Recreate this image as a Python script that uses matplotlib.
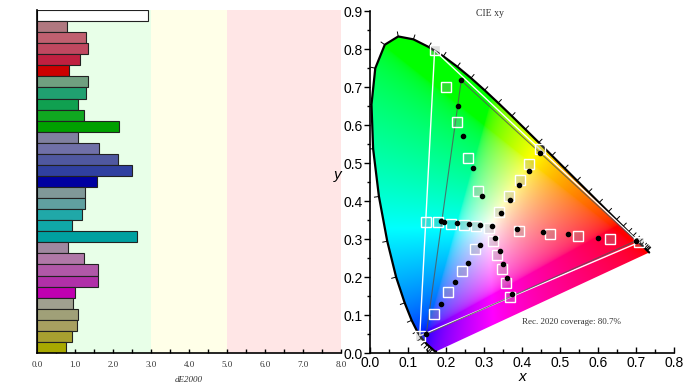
import numpy as np
import matplotlib
matplotlib.use("Agg")
import matplotlib.pyplot as plt
from matplotlib.patches import Polygon
from matplotlib.ticker import MultipleLocator

# ---- left panel: dE2000 per patch ----
de_values = [2.92,
             0.78, 1.28, 1.34, 1.14, 0.83,
             1.33, 1.30, 1.07, 1.23, 2.15,
             1.09, 1.64, 2.12, 2.51, 1.57,
             1.26, 1.25, 1.18, 0.93, 2.64,
             0.81, 1.23, 1.61, 1.60, 1.00,
             0.96, 1.08, 1.06, 0.91, 0.76]
bar_colors = ['#ffffff',
              '#b07880', '#c06070', '#c04860', '#c02040', '#cc0000',
              '#70a080', '#20a070', '#10a050', '#10a820', '#00a000',
              '#8080a0', '#7070a8', '#5058a0', '#3040a0', '#0000a0',
              '#809898', '#60a0a0', '#20a8a8', '#10a8a8', '#00a0a0',
              '#a088a0', '#b078a8', '#b058a8', '#b030a8', '#c000b0',
              '#a0a090', '#a0a078', '#a8a060', '#a8a030', '#a8a800']
de_ticks = [0, 1, 2, 3, 4, 5, 6, 7, 8]

# ---- right panel: CIE 1931 spectral locus (5 nm steps) ----
locus_nm = [380, 385, 390, 395, 400, 405, 410, 415, 420, 425, 430, 435, 440, 445,
            450, 455, 460, 465, 470, 475, 480, 485, 490, 495, 500, 505, 510, 515,
            520, 525, 530, 535, 540, 545, 550, 555, 560, 565, 570, 575, 580, 585,
            590, 595, 600, 605, 610, 615, 620, 625, 630, 635, 640, 645, 650, 655,
            660, 665, 670, 680, 690, 700]
locus_x = [0.1741, 0.1740, 0.1738, 0.1736, 0.1733, 0.1730, 0.1726, 0.1721, 0.1714, 0.1703,
           0.1689, 0.1669, 0.1644, 0.1611, 0.1566, 0.1510, 0.1440, 0.1355, 0.1241, 0.1096,
           0.0913, 0.0687, 0.0454, 0.0235, 0.0082, 0.0039, 0.0139, 0.0389, 0.0743, 0.1142,
           0.1547, 0.1929, 0.2296, 0.2658, 0.3016, 0.3373, 0.3731, 0.4087, 0.4441, 0.4788,
           0.5125, 0.5448, 0.5752, 0.6029, 0.6270, 0.6482, 0.6658, 0.6801, 0.6915, 0.7006,
           0.7079, 0.7140, 0.7190, 0.7230, 0.7260, 0.7283, 0.7300, 0.7311, 0.7320, 0.7334,
           0.7344, 0.7347]
locus_y = [0.0050, 0.0050, 0.0049, 0.0049, 0.0048, 0.0048, 0.0048, 0.0048, 0.0051, 0.0058,
           0.0069, 0.0086, 0.0109, 0.0138, 0.0177, 0.0227, 0.0297, 0.0399, 0.0578, 0.0868,
           0.1327, 0.2007, 0.2950, 0.4127, 0.5384, 0.6548, 0.7502, 0.8120, 0.8338, 0.8262,
           0.8059, 0.7816, 0.7543, 0.7243, 0.6923, 0.6589, 0.6245, 0.5896, 0.5547, 0.5202,
           0.4866, 0.4544, 0.4242, 0.3965, 0.3725, 0.3514, 0.3340, 0.3197, 0.3083, 0.2993,
           0.2920, 0.2859, 0.2809, 0.2770, 0.2740, 0.2717, 0.2700, 0.2689, 0.2680, 0.2666,
           0.2656, 0.2653]

rec2020_x = [0.708, 0.170, 0.131]
rec2020_y = [0.292, 0.797, 0.046]
display_x = [0.700, 0.240, 0.148]
display_y = [0.296, 0.718, 0.050]

# target squares (white, R, G, B, C, M, Y sweeps)
target_x = [0.3127,
            0.392, 0.474, 0.547, 0.632, 0.708,
            0.284, 0.258, 0.229, 0.200, 0.170,
            0.276, 0.242, 0.205, 0.169, 0.131,
            0.278, 0.248, 0.214, 0.180, 0.148,
            0.324, 0.335, 0.347, 0.358, 0.369,
            0.340, 0.367, 0.395, 0.419, 0.447]
target_y = [0.331,
            0.323, 0.315, 0.309, 0.300, 0.292,
            0.428, 0.515, 0.609, 0.700, 0.797,
            0.274, 0.217, 0.160, 0.103, 0.046,
            0.334, 0.337, 0.339, 0.345, 0.346,
            0.296, 0.258, 0.221, 0.185, 0.148,
            0.373, 0.413, 0.456, 0.497, 0.537]
# measured dots
meas_x = [0.320,
          0.388, 0.456, 0.520, 0.601, 0.700,
          0.295, 0.271, 0.246, 0.231, 0.240,
          0.289, 0.257, 0.224, 0.186, 0.148,
          0.290, 0.261, 0.228, 0.194, 0.188,
          0.330, 0.341, 0.351, 0.361, 0.374,
          0.345, 0.368, 0.392, 0.418, 0.448]
meas_y = [0.334,
          0.327, 0.319, 0.313, 0.303, 0.296,
          0.415, 0.488, 0.571, 0.651, 0.718,
          0.286, 0.237, 0.187, 0.130, 0.050,
          0.337, 0.339, 0.343, 0.346, 0.348,
          0.304, 0.269, 0.234, 0.199, 0.157,
          0.369, 0.403, 0.442, 0.481, 0.527]
coverage_text = "Rec. 2020 coverage: 80.7%"

fig = plt.figure(figsize=(6.93, 3.9), dpi=100)

# ================= left: dE bars =================
ax1 = fig.add_axes([37 / 693, 1 - 353 / 390, 304 / 693, 343 / 390])
ax1.axvspan(0, 3, color='#e8ffe8', lw=0, zorder=0)
ax1.axvspan(3, 5, color='#ffffe8', lw=0, zorder=0)
ax1.axvspan(5, 8, color='#ffe6e6', lw=0, zorder=0)
pos = np.arange(len(de_values))[::-1]
ax1.barh(pos, de_values, height=1.0, color=bar_colors, edgecolor='#222222',
         linewidth=0.8, zorder=2)
ax1.set_xlim(0, 8)
ax1.set_ylim(-0.5, len(de_values) - 0.5)
ax1.set_xticks(de_ticks)
ax1.set_xticklabels([f"{v:.1f}" for v in de_ticks], family='Liberation Serif',
                    fontsize=6.5, color='#333333')
ax1.xaxis.set_minor_locator(MultipleLocator(0.5))
ax1.tick_params(axis='x', which='both', direction='in', length=3, width=1, pad=6)
ax1.set_yticks([])
ax1.spines['top'].set_visible(False)
ax1.spines['right'].set_visible(False)
ax1.spines['left'].set_linewidth(1.2)
ax1.spines['bottom'].set_linewidth(1.2)
ax1.set_xlabel('dE2000', family='Liberation Serif', style='italic', fontsize=6.5,
               color='#333333', labelpad=5)

# ================= right: CIE xy =================
ax2 = fig.add_axes([370 / 693, 1 - 353.3 / 390, 304 / 693, 342 / 390])
lx = np.array(locus_x)
ly = np.array(locus_y)

# chromaticity colour fill
gx, gy = np.meshgrid(np.linspace(0, 0.8, 480), np.linspace(0.001, 0.9, 540))
X = gx / gy
Y = np.ones_like(gx)
Z = (1 - gx - gy) / gy
R = 3.2406 * X - 1.5372 * Y - 0.4986 * Z
G = -0.9689 * X + 1.8758 * Y + 0.0415 * Z
B = 0.0557 * X - 0.2040 * Y + 1.0570 * Z
rgb = np.clip(np.dstack([R, G, B]), 0, None)
rgb = rgb / np.maximum(rgb.max(axis=2, keepdims=True), 1e-9)
rgb = np.clip(rgb, 0, 1) ** (1 / 2.2)
img = ax2.imshow(rgb, origin='lower', extent=[0, 0.8, 0.001, 0.9],
                 interpolation='bilinear', zorder=1)
clip = Polygon(np.column_stack([lx, ly]), closed=True, transform=ax2.transData,
               facecolor='none', edgecolor='none')
ax2.add_patch(clip)
img.set_clip_path(clip)

ax2.plot(lx, ly, color='black', lw=1.6, zorder=3, solid_capstyle='round')

# wavelength ticks
wx, wy = 0.33, 0.33
for i in range(1, len(lx) - 1):
    if locus_nm[i] < 440 or locus_nm[i] > 660:
        continue
    tx = lx[i + 1] - lx[i - 1]
    ty = ly[i + 1] - ly[i - 1]
    n = np.array([ty, -tx])
    n = n / np.hypot(*n)
    if np.dot(n, [lx[i] - wx, ly[i] - wy]) < 0:
        n = -n
    ax2.plot([lx[i], lx[i] + 0.012 * n[0]], [ly[i], ly[i] + 0.012 * n[1]],
             color='black', lw=0.7, zorder=3)

ax2.plot(rec2020_x + rec2020_x[:1], rec2020_y + rec2020_y[:1], color='white',
         lw=1.0, zorder=4)
ax2.plot(display_x + display_x[:1], display_y + display_y[:1], color='#555555',
         lw=0.8, alpha=0.8, zorder=4)
ax2.plot(target_x, target_y, ls='none', marker='s', ms=7.5, mfc=(0.6, 0.6, 0.6, 0.3),
         mec='white', mew=1.0, zorder=5)
ax2.plot(meas_x, meas_y, ls='none', marker='o', ms=3, color='black', zorder=6)

ax2.text(0.316, 0.893, 'CIE xy', family='Liberation Serif', fontsize=7,
         ha='center', va='center', color='#333333')
ax2.text(0.531, 0.082, coverage_text, family='Liberation Serif', fontsize=6.5,
         ha='center', va='center', color='#333333')

ax2.set_xlim(0, 0.8)
ax2.set_ylim(0, 0.9)
ax2.xaxis.set_major_locator(MultipleLocator(0.1))
ax2.xaxis.set_minor_locator(MultipleLocator(0.05))
ax2.yaxis.set_major_locator(MultipleLocator(0.1))
ax2.yaxis.set_minor_locator(MultipleLocator(0.05))
ax2.tick_params(axis='x', which='major', direction='in', length=4, width=1,
                labelsize=10, pad=2)
ax2.tick_params(axis='x', which='minor', direction='in', length=3, width=1)
ax2.tick_params(axis='y', which='major', direction='out', length=4, width=1,
                labelsize=10, pad=1)
ax2.tick_params(axis='y', which='minor', direction='out', length=2, width=1)
for lab in ax2.get_xticklabels() + ax2.get_yticklabels():
    lab.set_family('Liberation Sans')
ax2.xaxis.set_major_formatter(plt.FuncFormatter(lambda v, p: f"{v:.1f}"))
ax2.yaxis.set_major_formatter(plt.FuncFormatter(lambda v, p: f"{v:.1f}"))
ax2.spines['top'].set_visible(False)
ax2.spines['right'].set_visible(False)
ax2.spines['left'].set_linewidth(1.2)
ax2.spines['bottom'].set_linewidth(1.2)
ax2.set_xlabel('x', family='Liberation Sans', style='italic', fontsize=11, labelpad=0)
ax2.set_ylabel('y', family='Liberation Sans', style='italic', fontsize=11,
               rotation=0, labelpad=4)

fig.savefig('out.png', dpi=100)
